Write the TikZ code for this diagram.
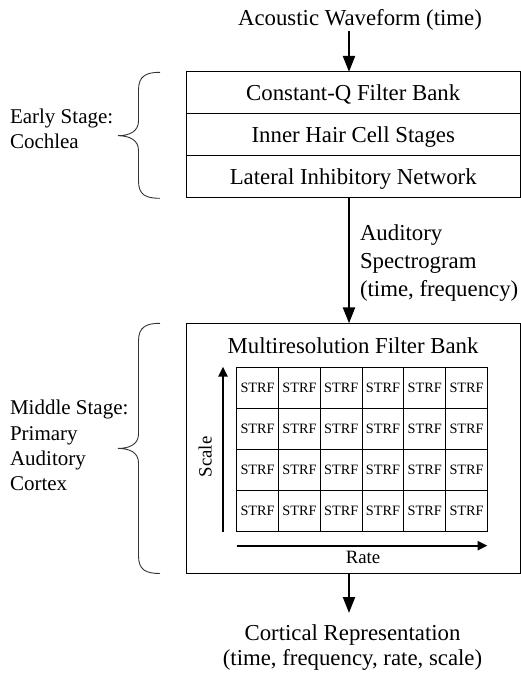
\documentclass[tikz,border=0pt]{standalone}
\usepackage{fontspec}
\setmainfont{Liberation Serif}
\usetikzlibrary{arrows.meta}
\begin{document}
\begin{tikzpicture}[x=1pt,y=-1pt,
  big/.style={font=\fontsize{22.8}{25}\selectfont, inner sep=0pt, outer sep=0pt},
  sidelbl/.style={font=\fontsize{21}{25.3}\selectfont, inner sep=0pt, outer sep=0pt},
  bigwide/.style={font=\fontsize{22.8}{28}\selectfont, inner sep=0pt, outer sep=0pt},
  axislbl/.style={font=\fontsize{18.8}{20}\selectfont, inner sep=0pt, outer sep=0pt},
  rowbox/.style={draw, line width=0.9pt, minimum width=333.5pt, minimum height=42pt,
    inner sep=0pt, outer sep=0pt, text height=15pt, text depth=0pt,
    font=\fontsize{22.8}{25}\selectfont},
  bigbox/.style={draw, line width=0.9pt, minimum width=333.5pt, minimum height=250.2pt,
    inner sep=0pt, outer sep=0pt},
  cell/.style={draw, line width=0.9pt, minimum width=41.8pt, minimum height=41pt,
    inner sep=0pt, outer sep=0pt, text height=9.5pt, text depth=0pt,
    font=\fontsize{14.3}{15}\selectfont},
  flow/.style={line width=2.3pt, -{Triangle[length=16pt,width=12pt]}},
  axisarrow/.style={line width=2.3pt, -{Triangle[length=10pt,width=9pt]}},
  bracepath/.style={line width=0.9pt, draw=black!80}
]
\useasboundingbox (0,0) rectangle (521,675);

% input text
\node[big, anchor=base] (src) at (360,25) {Acoustic Waveform (time)};

% early stage box
\node[rowbox] (r1) at (353.25,92.85) {Constant-Q Filter Bank};
\node[rowbox] (r2) at (353.25,134.85) {Inner Hair Cell Stages};
\node[rowbox] (r3) at (353.25,176.7) {Lateral Inhibitory Network};

% middle stage box
\node[bigbox] (mid) at (353.25,448.4) {};
\node[big, anchor=base] (mtitle) at (353,353.3) {Multiresolution Filter Bank};

% STRF grid
\foreach \i in {0,...,5} {
  \foreach \j in {0,...,3} {
    \node[cell] (c\i\j) at ({236.7+41.8*(\i+0.5)},{367.7+41*(\j+0.5)}) {STRF};
  }
}

% axes
\coordinate (sb) at (223,531.7);
\coordinate (st) at (223,366.7);
\draw[axisarrow] (sb) -- (st);
\node[axislbl, rotate=90, anchor=base] (scale) at (211.7,457) {Scale};
\coordinate (rl) at (236.7,545.7);
\coordinate (rr) at (487.5,545.7);
\draw[axisarrow] (rl) -- (rr);
\node[axislbl, anchor=base] (rate) at (363,563.3) {Rate};

% flow arrows
\coordinate (ax) at (349,0);
\coordinate (a1s) at (349,31);
\coordinate (a3e) at (349,613);
\draw[flow] (a1s) -- (a1s |- r1.north);
\draw[flow] (r3.south -| ax) -- (mid.north -| ax);
\draw[flow] (mid.south -| ax) -- (a3e);

% labels (base anchor = baseline of last line)
\node[bigwide, anchor=base west, align=left] (spec) at (360,296)
  {Auditory\\Spectrogram\\(time, frequency)};
\node[big, anchor=base, align=center] (out) at (352.5,665)
  {Cortical Representation\\(time, frequency, rate, scale)};
\node[sidelbl, anchor=base west, align=left] (early) at (10,148.3)
  {Early Stage:\\Cochlea};
\node[sidelbl, anchor=base west, align=left] (middle) at (10,490.7)
  {Middle Stage:\\Primary\\Auditory\\Cortex};

% braces
\draw[bracepath] (160,72.3) .. controls (146,72.3) and (138.5,76) .. (138.5,90)
  -- (138.5,121) .. controls (138.5,131) and (130,135.7) .. (118,135.7)
  .. controls (130,135.7) and (138.5,140.4) .. (138.5,150.4)
  -- (138.5,181) .. controls (138.5,195) and (146,198.3) .. (160,198.3);
\draw[bracepath] (160,323.3) .. controls (146,323.3) and (138.5,327) .. (138.5,341)
  -- (138.5,434) .. controls (138.5,444) and (130,448.4) .. (118,448.4)
  .. controls (130,448.4) and (138.5,452.8) .. (138.5,462.8)
  -- (138.5,556) .. controls (138.5,570) and (146,573.5) .. (160,573.5);
\end{tikzpicture}
\end{document}
